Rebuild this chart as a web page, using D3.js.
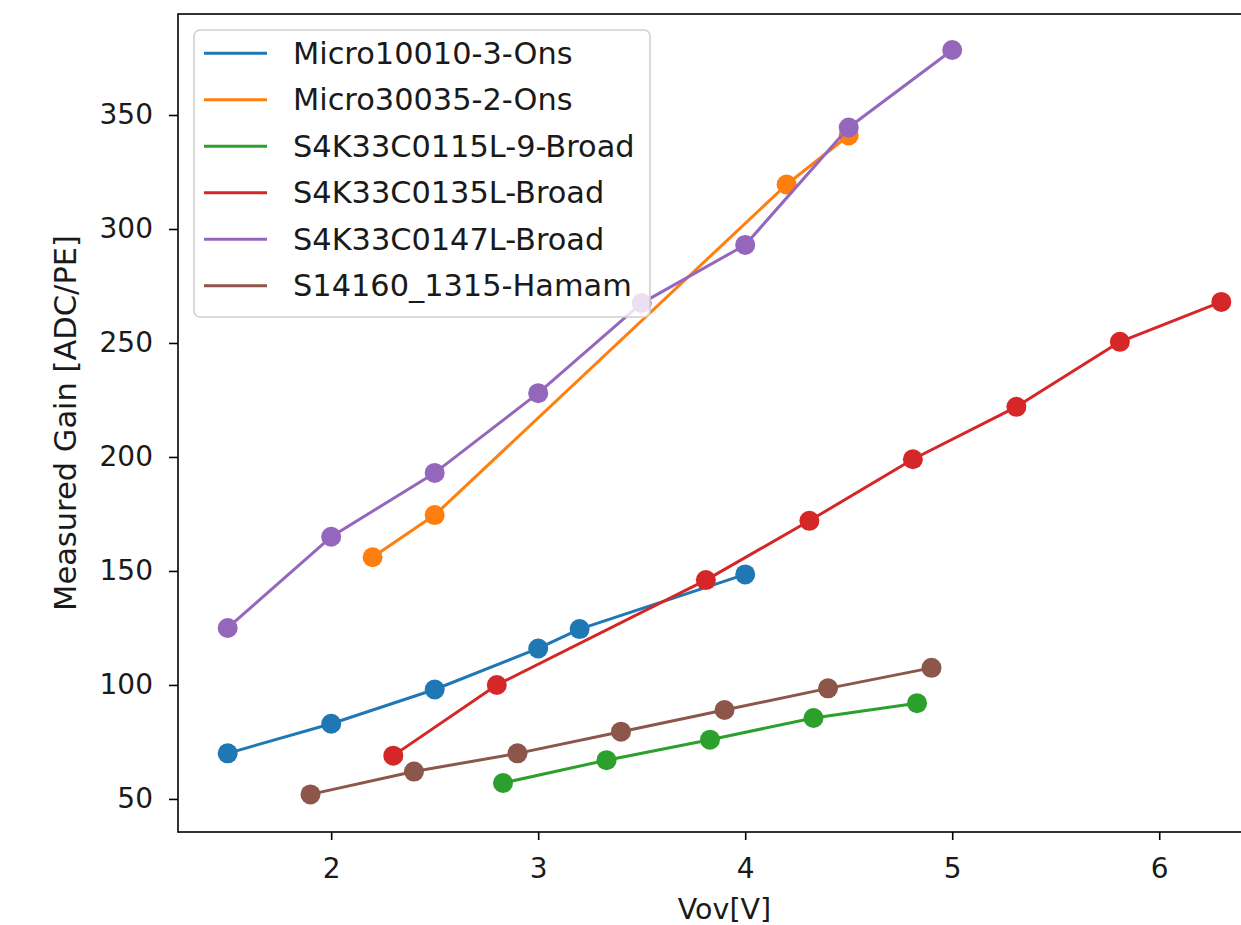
<!DOCTYPE html>
<html><head><meta charset="utf-8">
<script src="https://cdn.jsdelivr.net/npm/d3@7"></script>
<style>body{margin:0;background:#fff}svg{display:block}</style>
</head><body>
<svg id="c" width="1241" height="925"></svg>
<script>
const seriesNames = ["Micro10010-3-Ons","Micro30035-2-Ons","S4K33C0115L-9-Broad","S4K33C0135L-Broad","S4K33C0147L-Broad","S14160_1315-Hamam"];
const seriesColors = ["#1f77b4","#ff7f0e","#2ca02c","#d62728","#9467bd","#8c564b"];
const micro10010X = [1.5,2.0,2.5,3.0,3.2,4.0];
const micro10010Y = [70,83,98,116,124.5,148.5];
const micro30035X = [2.2,2.5,4.2,4.5];
const micro30035Y = [156,174.5,319.5,341];
const s0115X = [2.83,3.33,3.83,4.33,4.83];
const s0115Y = [57,67,76,85.5,92];
const s0135X = [2.3,2.8,3.81,4.31,4.81,5.31,5.81,6.3];
const s0135Y = [69,100,146,172,199,222,250.5,268];
const s0147X = [1.5,2,2.5,3,3.5,4,4.5,5];
const s0147Y = [125,165,193,228,267.5,293,344.5,378.5];
const s14160X = [1.9,2.4,2.9,3.4,3.9,4.4,4.9];
const s14160Y = [52,62,70,79.5,89,98.5,107.5];
const xTicks = [2,3,4,5,6];
const yTicks = [50,100,150,200,250,300,350];
const xLabel = "Vov[V]";
const yLabel = "Measured Gain [ADC/PE]";

const allX = [micro10010X,micro30035X,s0115X,s0135X,s0147X,s14160X];
const allY = [micro10010Y,micro30035Y,s0115Y,s0135Y,s0147Y,s14160Y];
const series = seriesNames.map((n,i)=>({name:n,color:seriesColors[i],pts:allX[i].map((x,j)=>[x,allY[i][j]])}));

const L=178, R=1271, T=14, B=832;
const x = d3.scaleLinear().domain([1.26,6.54]).range([L,R]);
const y = d3.scaleLinear().domain([35.5,394.3]).range([B,T]);
const svg = d3.select("#c");
const FONT = "DejaVu Sans, sans-serif";

// data
const line = d3.line().x(d=>x(d[0])).y(d=>y(d[1]));
const g = svg.append("g");
series.forEach(s=>{
  g.append("path").attr("d",line(s.pts)).attr("fill","none").attr("stroke",s.color).attr("stroke-width",3).attr("stroke-linejoin","round");
  g.selectAll(null).data(s.pts).enter().append("circle")
    .attr("cx",d=>x(d[0])).attr("cy",d=>y(d[1])).attr("r",10).attr("fill",s.color);
});

// axes
const xAxis = svg.append("g").attr("transform",`translate(0,${B})`)
  .call(d3.axisBottom(x).tickValues(xTicks).tickSize(8).tickPadding(18).tickFormat(d3.format("d")));
const yAxis = svg.append("g").attr("transform",`translate(${L},0)`)
  .call(d3.axisLeft(y).tickValues(yTicks).tickSize(9).tickPadding(16).tickFormat(d3.format("d")));
[xAxis,yAxis].forEach(a=>{
  a.select(".domain").remove();
  a.selectAll(".tick line").attr("stroke","#000").attr("stroke-width",1.6);
  a.selectAll(".tick text").attr("fill","#1a1a1a").style("font-family",FONT).style("font-size","28px");
});
// spines
svg.append("rect").attr("x",L).attr("y",T).attr("width",R-L).attr("height",B-T)
  .attr("fill","none").attr("stroke","#000").attr("stroke-width",1.6);

// labels
svg.append("text").attr("x",(L+R)/2).attr("y",919).attr("text-anchor","middle")
  .style("font-family",FONT).style("font-size","28.5px").attr("fill","#1a1a1a").text(xLabel);
svg.append("text").attr("transform",`translate(76,${(T+B)/2}) rotate(-90)`).attr("text-anchor","middle")
  .style("font-family",FONT).style("font-size","30.5px").attr("fill","#1a1a1a").text(yLabel);

// legend
const lg = svg.append("g");
lg.append("rect").attr("x",194).attr("y",30).attr("width",456).attr("height",287).attr("rx",6)
  .attr("fill","#fff").attr("fill-opacity",0.8).attr("stroke","#d0d0d0").attr("stroke-width",1.6);
series.forEach((s,i)=>{
  const cy = 53.3 + i*46.5;
  lg.append("line").attr("x1",204).attr("x2",267).attr("y1",cy).attr("y2",cy).attr("stroke",s.color).attr("stroke-width",3);
  lg.append("text").attr("x",293).attr("y",cy+10.5).style("font-family",FONT).style("font-size","30.4px").attr("fill","#1a1a1a").text(s.name);
});
</script>
</body></html>
